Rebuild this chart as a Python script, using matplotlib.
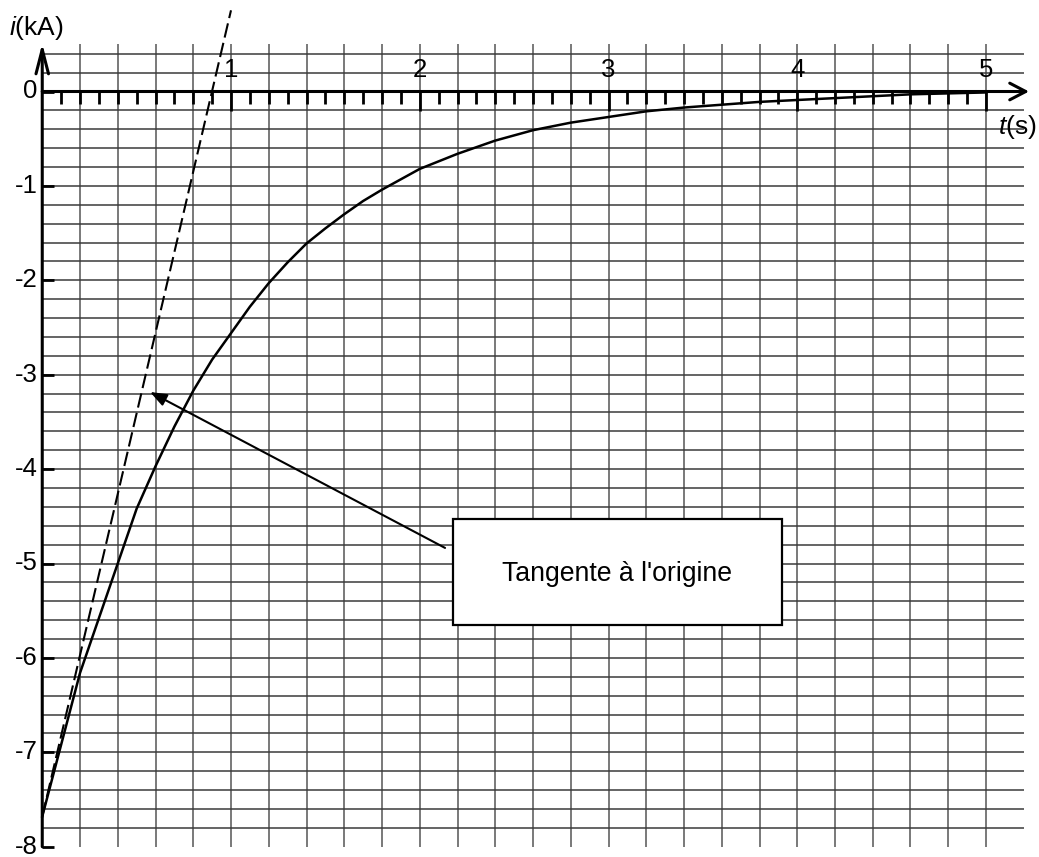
import numpy as np
import matplotlib
matplotlib.use("Agg")
import matplotlib.pyplot as plt
from matplotlib.patches import FancyArrowPatch, Rectangle

plt.rcParams['font.family'] = ['Liberation Sans', 'DejaVu Sans']
plt.rcParams['mathtext.fontset'] = 'custom'
plt.rcParams['mathtext.it'] = 'Liberation Sans:italic'
plt.rcParams['mathtext.rm'] = 'Liberation Sans'

# ---- data ----
t_curve = [0.0, 0.2, 0.5, 0.6, 0.7, 0.8, 0.9, 1.0, 1.1, 1.2, 1.3, 1.4, 1.5, 1.6, 1.7, 1.8,
           1.9, 2.0, 2.2, 2.4, 2.6, 2.8, 3.0, 3.2, 3.4, 3.6, 3.8, 4.0, 4.2, 4.4, 4.6, 4.8, 5.0]
i_curve = [-7.68, -6.16, -4.42, -3.97, -3.55, -3.17, -2.84, -2.56, -2.28, -2.03, -1.81, -1.61,
           -1.45, -1.30, -1.16, -1.04, -0.93, -0.82, -0.66, -0.52, -0.41, -0.33, -0.27, -0.21,
           -0.17, -0.14, -0.11, -0.09, -0.07, -0.05, -0.03, -0.02, -0.01]
t_tangent = [0.0, 1.0]
i_tangent = [-7.68, 0.86]
x_tick_labels = ['1', '2', '3', '4', '5']
x_tick_values = [1, 2, 3, 4, 5]
y_tick_values = [0, -1, -2, -3, -4, -5, -6, -7, -8]
y_tick_labels = ['0', '-1', '-2', '-3', '-4', '-5', '-6', '-7', '-8']
box_text = "Tangente à l'origine"
annot_tip = (0.571, -3.183)
annot_tail = (2.134, -4.835)

W, H, DPI = 1039, 857, 100
fig = plt.figure(figsize=(W / DPI, H / DPI), dpi=DPI)
ax = fig.add_axes([0, 0, 1, 1])
ax.set_axis_off()
# pixel mapping: x = 42.25 + 188.75 t ; y(top) = 91.5 - 94.4 i
ax.set_xlim(-42.25 / 188.75, (W - 42.25) / 188.75)
ax.set_ylim(-(H - 91.5) / 94.4, 91.5 / 94.4)

grid_col = '#6e6e6e'
# vertical grid lines
vx = np.round(np.arange(0.2, 5.0001, 0.2), 3)
ax.vlines(vx, -8, 0.5, colors=grid_col, lw=1.3, zorder=1)
# horizontal grid lines
hy = np.round(np.arange(-7.8, 0.4001, 0.2), 3)
hy = hy[np.abs(hy) > 1e-6]
ax.hlines(hy, 0, 5.2, colors='#3a3a3a', lw=1.1, zorder=1)

# axes with arrows
ax.add_patch(FancyArrowPatch((0, 0), (5.228, 0), arrowstyle='->,head_length=1.15,head_width=0.6',
                             mutation_scale=10, lw=2.2, color='black', shrinkA=0, shrinkB=0, zorder=4))
ax.add_patch(FancyArrowPatch((0, -8), (0, 0.51), arrowstyle='->,head_length=1.75,head_width=0.45',
                             mutation_scale=10, lw=2.2, color='black', shrinkA=0, shrinkB=0, zorder=4))

# x ticks (every 0.1 s), longer at integers
px_y = 1 / 94.4
tx = np.round(np.arange(0.1, 5.0001, 0.1), 3)
for t in tx:
    L = 19 if abs(t - round(t)) < 1e-6 else 12
    ax.plot([t, t], [0, -L * px_y], color='black', lw=2.0, solid_capstyle='butt', zorder=4)
# y ticks
px_x = 1 / 188.75
for v in y_tick_values:
    ax.plot([0, 12 * px_x], [v, v], color='black', lw=2.0, solid_capstyle='butt', zorder=4)

# tick labels
for v, lab in zip(x_tick_values, x_tick_labels):
    ax.text(v, 21.5 * px_y, lab, ha='center', va='center', fontsize=18.5, zorder=5)
for v, lab in zip(y_tick_values, y_tick_labels):
    ax.text(-4.5 * px_x, v, lab, ha='right', va='center', fontsize=18.5, zorder=5)

# axis titles
ax.text(-33 * px_x, 64 * px_y, r'$i$(kA)', ha='left', va='center', fontsize=19, zorder=5)
ax.text(5.066, -35.5 * px_y, r'$t$(s)', ha='left', va='center', fontsize=19, zorder=5)

# curve and tangent
ax.plot(t_curve, i_curve, color='black', lw=1.8, zorder=3)
ax.plot(t_tangent, i_tangent, color='black', lw=1.5, dashes=(7, 2.6), zorder=3)

# annotation box
bx0, bx1 = 2.176, 3.919
by0, by1 = -5.651, -4.529
ax.add_patch(Rectangle((bx0, by0), bx1 - bx0, by1 - by0, facecolor='white',
                       edgecolor='black', lw=1.6, zorder=6))
ax.text((bx0 + bx1) / 2, (by0 + by1) / 2 - 0.02, box_text, ha='center', va='center',
        fontsize=19.2, zorder=7)
ax.add_patch(FancyArrowPatch(annot_tail, annot_tip, arrowstyle='-|>,head_length=1.0,head_width=0.38',
                             mutation_scale=10, lw=1.5, color='black', shrinkA=0, shrinkB=0, zorder=5))

fig.savefig('out.png', dpi=DPI, facecolor='white')
